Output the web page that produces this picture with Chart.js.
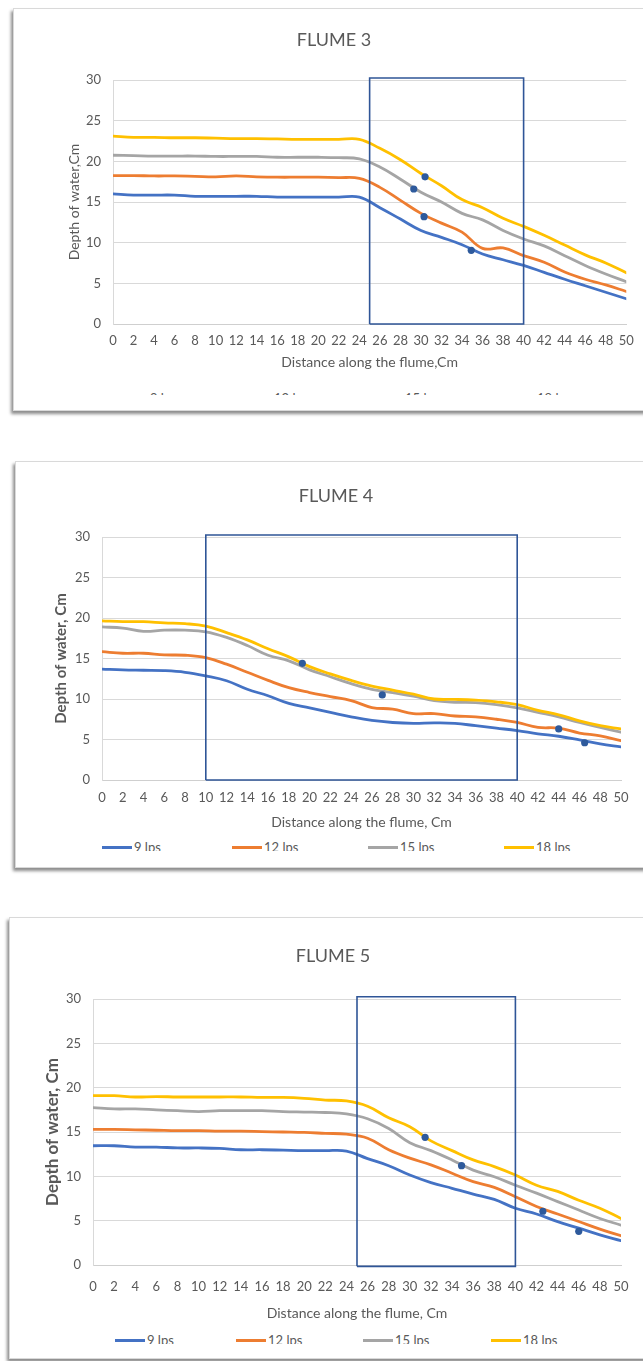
<!DOCTYPE html>
<html>
<head>
<meta charset="utf-8">
<script src="https://cdn.jsdelivr.net/npm/chart.js@4.4.1/dist/chart.umd.min.js"></script>
<style>
  html, body { margin: 0; padding: 0; background: #fff; width: 643px; height: 1361px; overflow: hidden; }
  body { position: relative; font-family: Lato, "Noto Sans", sans-serif; }
  .card { position: absolute; background: #fff; border: 1px solid #d9d9d9; box-sizing: border-box;
          box-shadow: -2px 3px 3px rgba(0,0,0,0.45); }
  .clip { position: absolute; left: 0; top: 0; right: 0; overflow: hidden; }
  .clip canvas { position: absolute; left: 0; top: 0; }
  .legend-item { position: absolute; display: flex; align-items: center; height: 14px;
                 font: 13px Lato, "Noto Sans", sans-serif; color: #595959; white-space: nowrap; }
  .legend-item .swatch { width: 30px; height: 3px; margin-right: 2px; }
</style>
</head>
<body>

<div class="card" id="card3" style="left:13px; top:8px; width:700px; height:403px;">
  <div class="clip" style="height:386px;"><canvas id="flume3" width="629" height="362"></canvas></div>
</div>
<div class="card" id="card4" style="left:15px; top:461px; width:700px; height:407px;">
  <div class="clip" style="height:388.5px;"><canvas id="flume4" width="627" height="369"></canvas></div>
</div>
<div class="card" id="card5" style="left:9px; top:917px; width:700px; height:442px;">
  <div class="clip" style="height:425.5px;"><canvas id="flume5" width="633" height="404"></canvas></div>
</div>

<script>
// Distance along the flume (cm) – also the x tick labels
const distance = [0, 2, 4, 6, 8, 10, 12, 14, 16, 18, 20, 22, 24, 26, 28, 30, 32, 34, 36, 38, 40, 42, 44, 46, 48, 50];
const seriesNames = ['9 lps', '12 lps', '15 lps', '18 lps'];

// FLUME 3 – depth of water (cm)
const flume3_9lps  = [16.0, 15.85, 15.85, 15.85, 15.7, 15.7, 15.7, 15.7, 15.6, 15.6, 15.6, 15.6, 15.6, 14.3, 12.9, 11.5, 10.65, 9.75, 8.6, 7.9, 7.2, 6.35, 5.5, 4.7, 3.9, 3.1];
const flume3_12lps = [18.25, 18.25, 18.2, 18.2, 18.15, 18.1, 18.2, 18.1, 18.05, 18.05, 18.05, 18.0, 17.9, 16.8, 15.2, 13.6, 12.4, 11.3, 9.3, 9.35, 8.4, 7.6, 6.4, 5.5, 4.8, 4.0];
const flume3_15lps = [20.75, 20.7, 20.65, 20.65, 20.65, 20.6, 20.6, 20.6, 20.5, 20.5, 20.5, 20.45, 20.3, 19.3, 17.8, 16.2, 15.0, 13.6, 12.8, 11.5, 10.45, 9.6, 8.4, 7.2, 6.15, 5.2];
const flume3_18lps = [23.1, 22.95, 22.95, 22.9, 22.9, 22.85, 22.8, 22.8, 22.75, 22.7, 22.7, 22.7, 22.7, 21.6, 20.2, 18.5, 17.0, 15.3, 14.3, 13.0, 12.0, 10.9, 9.7, 8.5, 7.5, 6.3];
const flume3_markerX = [30.4, 29.3, 30.3, 34.9];
const flume3_markerY = [18.1, 16.6, 13.2, 9.06];
const flume3_zone = [25, 40];

// FLUME 4 – depth of water (cm)
const flume4_9lps  = [13.7, 13.6, 13.55, 13.5, 13.3, 12.85, 12.25, 11.2, 10.4, 9.45, 8.9, 8.35, 7.8, 7.35, 7.1, 7.0, 7.05, 7.0, 6.7, 6.4, 6.1, 5.7, 5.4, 4.95, 4.45, 4.1];
const flume4_12lps = [15.85, 15.65, 15.65, 15.45, 15.4, 15.1, 14.3, 13.3, 12.3, 11.4, 10.8, 10.3, 9.8, 8.95, 8.75, 8.2, 8.2, 7.9, 7.8, 7.5, 7.1, 6.5, 6.4, 5.8, 5.45, 4.85];
const flume4_15lps = [18.9, 18.75, 18.35, 18.5, 18.5, 18.3, 17.6, 16.6, 15.4, 14.7, 13.6, 12.75, 11.9, 11.2, 10.8, 10.35, 9.8, 9.6, 9.55, 9.3, 8.9, 8.35, 7.8, 7.1, 6.5, 5.9];
const flume4_18lps = [19.65, 19.55, 19.55, 19.4, 19.3, 19.0, 18.2, 17.3, 16.2, 15.2, 14.0, 13.1, 12.3, 11.6, 11.1, 10.6, 10.0, 9.95, 9.85, 9.65, 9.3, 8.6, 8.05, 7.3, 6.7, 6.3];
const flume4_markerX = [19.3, 27.0, 44.0, 46.5];
const flume4_markerY = [14.4, 10.5, 6.3, 4.6];
const flume4_zone = [10, 40];

// FLUME 5 – depth of water (cm)
const flume5_9lps  = [13.45, 13.45, 13.3, 13.3, 13.2, 13.2, 13.15, 13.0, 13.0, 12.95, 12.9, 12.9, 12.85, 12.0, 11.2, 10.15, 9.3, 8.65, 8.0, 7.4, 6.4, 5.75, 4.9, 4.15, 3.4, 2.75];
const flume5_12lps = [15.3, 15.3, 15.25, 15.2, 15.15, 15.15, 15.1, 15.1, 15.05, 15.0, 14.95, 14.85, 14.75, 14.3, 13.0, 12.05, 11.3, 10.35, 9.4, 8.75, 7.7, 6.6, 5.75, 4.9, 4.05, 3.3];
const flume5_15lps = [17.75, 17.6, 17.6, 17.5, 17.4, 17.3, 17.4, 17.4, 17.4, 17.3, 17.25, 17.2, 17.05, 16.5, 15.4, 13.8, 12.9, 11.85, 10.7, 9.95, 9.0, 8.1, 7.15, 6.2, 5.25, 4.5];
const flume5_18lps = [19.1, 19.1, 18.95, 19.0, 18.95, 18.95, 18.95, 18.95, 18.9, 18.9, 18.8, 18.6, 18.5, 17.9, 16.6, 15.6, 14.0, 12.9, 11.85, 11.1, 10.15, 9.0, 8.3, 7.3, 6.4, 5.25];
const flume5_markerX = [31.45, 34.9, 42.6, 46.0];
const flume5_markerY = [14.4, 11.2, 6.06, 3.8];
const flume5_zone = [25, 40];

// ---- drawing ----
const LINE_COLORS = ['#4472C4', '#ED7D31', '#A5A5A5', '#FFC000'];
const MARKER_COLOR = '#2E5A9C';
const ZONE_COLOR = '#2F5597';
const TEXT_COLOR = '#595959';
const GRID_COLOR = '#d9d9d9';
const FONT = 'Lato, "Noto Sans", sans-serif';

function pairs(xs, ys) { return xs.map((x, i) => ({ x: x, y: ys[i] })); }

function makeFlume(cfg) {
  const datasets = [];
  // observation markers
  datasets.push({
    label: 'markers', data: pairs(cfg.markerX, cfg.markerY), showLine: false,
    pointRadius: 3.6, pointBackgroundColor: MARKER_COLOR, pointBorderColor: MARKER_COLOR,
    pointBorderWidth: 0, order: 0, isSeries: false
  });
  // highlighted reach outline
  const z = cfg.zone;
  datasets.push({
    label: 'zone',
    data: [{ x: z[0], y: cfg.zoneBottom }, { x: z[0], y: 30.25 }, { x: z[1], y: 30.25 },
           { x: z[1], y: cfg.zoneBottom }, { x: z[0], y: cfg.zoneBottom }],
    borderColor: ZONE_COLOR, borderWidth: 1.6, pointRadius: 0, tension: 0, fill: false,
    clip: false, order: 1, isSeries: false
  });
  cfg.series.forEach((vals, i) => {
    datasets.push({
      label: seriesNames[i], data: pairs(distance, vals), borderColor: LINE_COLORS[i],
      backgroundColor: LINE_COLORS[i], borderWidth: 2.8, pointRadius: 0, tension: 0.4,
      fill: false, order: 5 - i, isSeries: true, borderCapStyle: 'round', borderJoinStyle: 'round'
    });
  });

  const g = cfg.geom;
  const chart = new Chart(document.getElementById(cfg.id), {
    type: 'line',
    data: { datasets: datasets },
    options: {
      responsive: false, animation: false, devicePixelRatio: 1,
      layout: { padding: { left: g.padLeft, right: g.padRight, top: 0, bottom: 0.6 } },
      plugins: {
        legend: { display: false },
        tooltip: { enabled: false },
        title: {
          display: true, text: cfg.title, color: TEXT_COLOR,
          font: { family: FONT, size: 18, weight: 'normal', lineHeight: 1.2 },
          padding: { top: g.titleTop, bottom: g.titleBottom }
        }
      },
      scales: {
        x: {
          type: 'linear', min: 0, max: 50,
          afterBuildTicks: (s) => { s.ticks = distance.map(v => ({ value: v })); },
          grid: { display: false, drawTicks: false },
          border: { display: true, color: '#cfcfcf', width: 1 },
          ticks: { color: TEXT_COLOR, autoSkip: false, maxRotation: 0, padding: g.xTickPad,
                   font: { family: FONT, size: 13, lineHeight: 1.2 } },
          title: { display: true, text: cfg.xTitle, color: TEXT_COLOR, padding: 0,
                   font: { family: FONT, size: 14, lineHeight: 1.2 } },
          afterFit: (s) => { s.height = g.xHeight; }
        },
        y: {
          min: 0, max: 30,
          ticks: { stepSize: 5, color: TEXT_COLOR, padding: 12,
                   font: { family: FONT, size: 13, lineHeight: 1.2 } },
          grid: { color: GRID_COLOR, lineWidth: 1, drawTicks: false },
          border: { display: true, color: GRID_COLOR, width: 1 },
          title: { display: true, text: cfg.yTitle, color: TEXT_COLOR,
                   padding: { top: g.yTitlePad, bottom: 0 },
                   font: { family: FONT, size: cfg.yTitleSize, weight: cfg.yTitleWeight, lineHeight: 1.2 } },
          afterFit: (s) => { s.width = g.yWidth; }
        }
      }
    }
  });

  // legend built from the chart's own series datasets
  const clip = document.getElementById(cfg.id).parentNode;
  chart.data.datasets.filter(d => d.isSeries).forEach((d, i) => {
    const item = document.createElement('div');
    item.className = 'legend-item';
    item.style.left = cfg.legendX[i] + 'px';
    item.style.top = cfg.legendTop + 'px';
    const sw = document.createElement('span');
    sw.className = 'swatch';
    sw.style.background = d.borderColor;
    const tx = document.createElement('span');
    tx.textContent = d.label;
    item.appendChild(sw);
    item.appendChild(tx);
    clip.appendChild(item);
  });
  return chart;
}

makeFlume({
  id: 'flume3', title: 'FLUME 3',
  xTitle: 'Distance along the flume,Cm', yTitle: 'Depth of water,Cm',
  yTitleSize: 14, yTitleWeight: 'normal',
  series: [flume3_9lps, flume3_12lps, flume3_15lps, flume3_18lps],
  markerX: flume3_markerX, markerY: flume3_markerY, zone: flume3_zone, zoneBottom: 0,
  geom: { padLeft: 23, padRight: 12, yWidth: 76, yTitlePad: 28.6, titleTop: 20.2, titleBottom: 29.2,
          xTickPad: 9.2, xHeight: 46.4 },
  legendX: [104, 228, 359, 491], legendTop: 381.5
});

makeFlume({
  id: 'flume4', title: 'FLUME 4',
  xTitle: 'Distance along the flume, Cm', yTitle: 'Depth of water, Cm',
  yTitleSize: 15, yTitleWeight: 'bold',
  series: [flume4_9lps, flume4_12lps, flume4_15lps, flume4_18lps],
  markerX: flume4_markerX, markerY: flume4_markerY, zone: flume4_zone, zoneBottom: 0,
  geom: { padLeft: 35, padRight: 22, yWidth: 51, yTitlePad: 1, titleTop: 23.2, titleBottom: 30.2,
          xTickPad: 10.2, xHeight: 50.4 },
  legendX: [86, 216, 352, 488], legendTop: 378
});

makeFlume({
  id: 'flume5', title: 'FLUME 5',
  xTitle: 'Distance along the flume, Cm', yTitle: 'Depth of water, Cm',
  yTitleSize: 17, yTitleWeight: 'bold',
  series: [flume5_9lps, flume5_12lps, flume5_15lps, flume5_18lps],
  markerX: flume5_markerX, markerY: flume5_markerY, zone: flume5_zone, zoneBottom: -0.15,
  geom: { padLeft: 35, padRight: 22, yWidth: 48, yTitlePad: -2.2, titleTop: 27.2, titleBottom: 32.2,
          xTickPad: 14.2, xHeight: 56.4 },
  legendX: [105, 226, 353, 481], legendTop: 415
});
</script>
</body>
</html>
